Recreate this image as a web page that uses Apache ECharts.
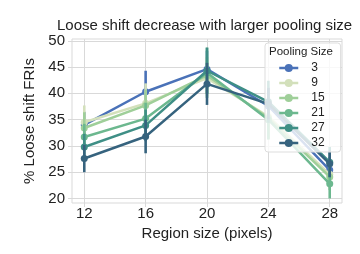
<!DOCTYPE html>
<html>
<head>
<meta charset="utf-8">
<script src="https://cdn.jsdelivr.net/npm/echarts@6/dist/echarts.min.js"></script>
<style>html,body{margin:0;padding:0;background:#fff}#c{width:360px;height:254px}</style>
</head>
<body>
<div id="c"></div>
<script>
var regionSizes = [12, 16, 20, 24, 28];
var xTicks = [12, 16, 20, 24, 28];
var yTicks = [20, 25, 30, 35, 40, 45, 50];
var poolingSizes = ['3', '9', '15', '21', '27', '32'];
var p3  = [34.0, 40.3, 44.6, 37.6, 25.4];
var p9  = [34.5, 38.1, 42.9, 35.6, 24.6];
var p15 = [33.4, 37.7, 43.4, 35.3, 24.1];
var p21 = [31.7, 35.2, 43.9, 35.0, 22.8];
var p27 = [29.8, 33.9, 44.3, 38.4, 26.9];
var p32 = [27.6, 31.8, 41.8, 38.0, 26.6];
var e3  = [2.5, 4.0, 3.5, 3.5, 2.5];
var e9  = [3.2, 3.8, 3.5, 4.2, 2.5];
var e15 = [3.0, 3.0, 3.5, 4.0, 2.5];
var e21 = [2.5, 3.0, 4.8, 3.8, 2.8];
var e27 = [2.5, 3.0, 4.4, 4.0, 2.9];
var e32 = [2.6, 3.2, 4.0, 3.0, 2.5];

var values = [p3, p9, p15, p21, p27, p32];
var errs = [e3, e9, e15, e21, e27, e32];
var colors = ['#4a72b8', '#d3e0bb', '#9fcf99', '#6cb88f', '#3f8f86', '#36637e'];

var series = [];
poolingSizes.forEach(function (name, i) {
  var errData = regionSizes.map(function (x, j) {
    return [x, values[i][j] - errs[i][j], values[i][j] + errs[i][j]];
  });
  series.push({
    type: 'custom',
    name: 'err' + name,
    data: errData,
    z: 2 + i * 0.01,
    silent: true,
    renderItem: function (params, api) {
      var a = api.coord([api.value(0), api.value(1)]);
      var b = api.coord([api.value(0), api.value(2)]);
      return {
        type: 'line',
        shape: { x1: a[0], y1: a[1], x2: b[0], y2: b[1] },
        style: { stroke: colors[i], lineWidth: 2.6 }
      };
    },
    encode: { x: 0, y: [1, 2] }
  });
  series.push({
    type: 'line',
    name: name,
    data: regionSizes.map(function (x, j) { return [x, values[i][j]]; }),
    z: 2 + i * 0.01 + 0.005,
    color: colors[i],
    symbol: 'circle',
    symbolSize: 7,
    lineStyle: { width: 2.5, color: colors[i] },
    itemStyle: { color: colors[i] },
    animation: false
  });
});

var chart = echarts.init(document.getElementById('c'), null, { renderer: 'canvas' });
chart.setOption({
  animation: false,
  textStyle: { fontFamily: 'Liberation Sans, Arial, sans-serif' },
  title: {
    text: 'Loose shift decrease with larger pooling size',
    left: 57, top: 18, padding: 0,
    textStyle: { fontSize: 15, fontWeight: 'normal', color: '#222', fontFamily: 'Liberation Sans, Arial, sans-serif' }
  },
  grid: { left: 72, right: 18, top: 39, bottom: 51, show: true, borderColor: '#d9d9d9', borderWidth: 1, backgroundColor: '#fff' },
  xAxis: {
    type: 'value', min: 11.2, max: 28.8,
    name: 'Region size (pixels)', nameLocation: 'middle', nameGap: 21,
    nameTextStyle: { fontSize: 15, color: '#222' },
    axisLine: { show: false },
    axisTick: { show: true, length: 4, customValues: xTicks, lineStyle: { color: '#d9d9d9' } },
    axisLabel: { customValues: xTicks, fontSize: 15, color: '#222', margin: 3 },
    splitLine: { show: true, lineStyle: { color: '#d9d9d9', width: 1 } }
  },
  yAxis: {
    type: 'value', min: 19.14, max: 50.34,
    name: '% Loose shift FRIs', nameLocation: 'middle', nameGap: 34,
    nameTextStyle: { fontSize: 15, color: '#222' },
    axisLine: { show: false },
    axisTick: { show: true, length: 4, customValues: yTicks, lineStyle: { color: '#d9d9d9' } },
    axisLabel: { customValues: yTicks, fontSize: 15, color: '#222', margin: 7 },
    splitLine: { show: true, lineStyle: { color: '#d9d9d9', width: 1 } }
  },
  legend: {
    data: poolingSizes,
    orient: 'vertical',
    left: 265, top: 43,
    padding: [19, 16, 3, 13],
    itemGap: 3,
    itemWidth: 19, itemHeight: 10,
    lineStyle: { width: 2.5 },
    backgroundColor: 'rgba(255,255,255,0.8)',
    borderColor: '#dddddd', borderWidth: 1, borderRadius: 3,
    textStyle: { fontSize: 12, color: '#222', lineHeight: 12, padding: [0, 0, 0, 8] },
    z: 10
  },
  graphic: [{
    type: 'text', left: 269, top: 46, z: 100,
    style: { text: 'Pooling Size', fontSize: 11.5, fill: '#222', fontFamily: 'Liberation Sans, Arial, sans-serif' }
  }],
  series: series
});
</script>
</body>
</html>
